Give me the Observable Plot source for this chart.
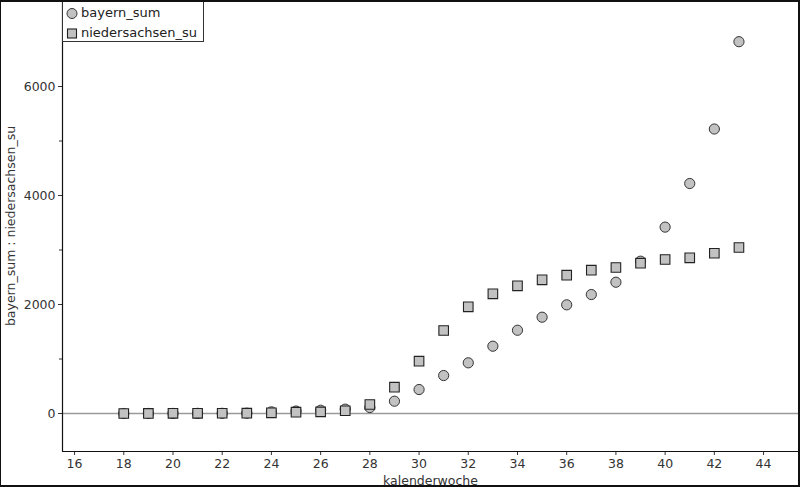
<!DOCTYPE html>
<html>
<head>
<meta charset="utf-8">
<script src="https://cdn.jsdelivr.net/npm/d3@7"></script>
<script src="https://cdn.jsdelivr.net/npm/@observablehq/plot@0.6"></script>
<style>
  html, body { margin: 0; padding: 0; background: #fff; }
  #wrap { position: relative; width: 800px; height: 487px; overflow: hidden; }
  #border { position: absolute; left: 0; top: 0; width: 800px; height: 487px; box-sizing: border-box;
            border: 2px solid #111; border-left-width: 1px; pointer-events: none; }
  #legend { position: absolute; left: 62px; top: 0px; width: 142px; height: 42px; box-sizing: border-box;
            border: 1px solid #333; background: #fff; font-family: "DejaVu Sans", sans-serif; font-size: 13px; color: #222; }
  #legend .row { position: absolute; left: 0; height: 18px; }
  #legend svg { position: absolute; left: 2px; top: 0; }
  #legend span { position: absolute; left: 18px; top: 0; white-space: nowrap; line-height: 18px; }
</style>
</head>
<body>
<div id="wrap">
  <div id="chart"></div>
  <div id="legend"></div>
  <div id="border"></div>
</div>
<script>
// ---- data ----
const weeks = [18,19,20,21,22,23,24,25,26,27,28,29,30,31,32,33,34,35,36,37,38,39,40,41,42,43];
const bayernSum = [0,1,2,3,4,6,30,45,60,80,110,226,440,697,930,1235,1528,1767,1994,2183,2409,2795,3420,4220,5220,6822];
const niedersachsenSu = [0,2,3,4,5,6,12,25,30,50,165,483,960,1523,1958,2196,2343,2453,2538,2630,2679,2758,2826,2857,2941,3046];
const seriesNames = ["bayern_sum", "niedersachsen_su"];
const xTicks = [16,18,20,22,24,26,28,30,32,34,36,38,40,42,44];
const yTicks = [0,2000,4000,6000];
const yMinorTicks = [1000,3000,5000];
const xLabel = "kalenderwoche";
const yLabel = "bayern_sum : niedersachsen_su";

const xDomain = [15.51, 45.42];
const yDomain = [-697, 7578];

const bayern = weeks.map((w, i) => ({week: w, value: bayernSum[i]}));
const nieder = weeks.map((w, i) => ({week: w, value: niedersachsenSu[i]}));

const chart = Plot.plot({
  width: 800,
  height: 487,
  marginLeft: 62,
  marginRight: 2,
  marginTop: 0,
  marginBottom: 36,
  style: {fontFamily: "DejaVu Sans, sans-serif", fontSize: "12.5px", color: "#333", background: "#fff"},
  x: {domain: xDomain},
  y: {domain: yDomain},
  marks: [
    Plot.ruleY([0], {stroke: "#9a9a9a", strokeWidth: 1.5}),
    Plot.axisX({ticks: xTicks, tickSize: 4, tickPadding: 4, label: xLabel, labelArrow: "none", labelAnchor: "center", labelOffset: 33, tickFormat: d => String(d)}),
    Plot.axisY({ticks: yTicks, tickSize: 4, tickPadding: 3, label: yLabel, labelArrow: "none", labelAnchor: "center", labelOffset: 56, tickFormat: d => String(d)}),
    Plot.axisY({ticks: yMinorTicks, tickSize: 3, tickFormat: () => "", label: null}),
    Plot.ruleX([xDomain[0]], {stroke: "#111", strokeWidth: 1.2}),
    Plot.ruleY([yDomain[0]], {stroke: "#111", strokeWidth: 1.2}),
    Plot.dot(bayern, {x: "week", y: "value", symbol: "circle", r: 5.1, fill: "#c2c2c2", stroke: "#333", strokeWidth: 1}),
    Plot.dot(nieder, {x: "week", y: "value", symbol: "square", r: 5.4, fill: "#c2c2c2", stroke: "#222", strokeWidth: 1.1})
  ]
});
document.getElementById("chart").appendChild(chart);

// legend
const legend = document.getElementById("legend");
seriesNames.forEach((name, i) => {
  const row = document.createElement("div");
  row.className = "row";
  row.style.top = (i === 0 ? 3 : 23) + "px";
  row.style.width = "140px";
  const sym = i === 0
    ? '<svg width="14" height="18"><circle cx="7" cy="9.5" r="5" fill="#c2c2c2" stroke="#333" stroke-width="1"/></svg>'
    : '<svg width="14" height="18"><rect x="2.5" y="5" width="9" height="9" fill="#c2c2c2" stroke="#222" stroke-width="1.1"/></svg>';
  row.innerHTML = sym + '<span>' + name + '</span>';
  legend.appendChild(row);
});
</script>
</body>
</html>
